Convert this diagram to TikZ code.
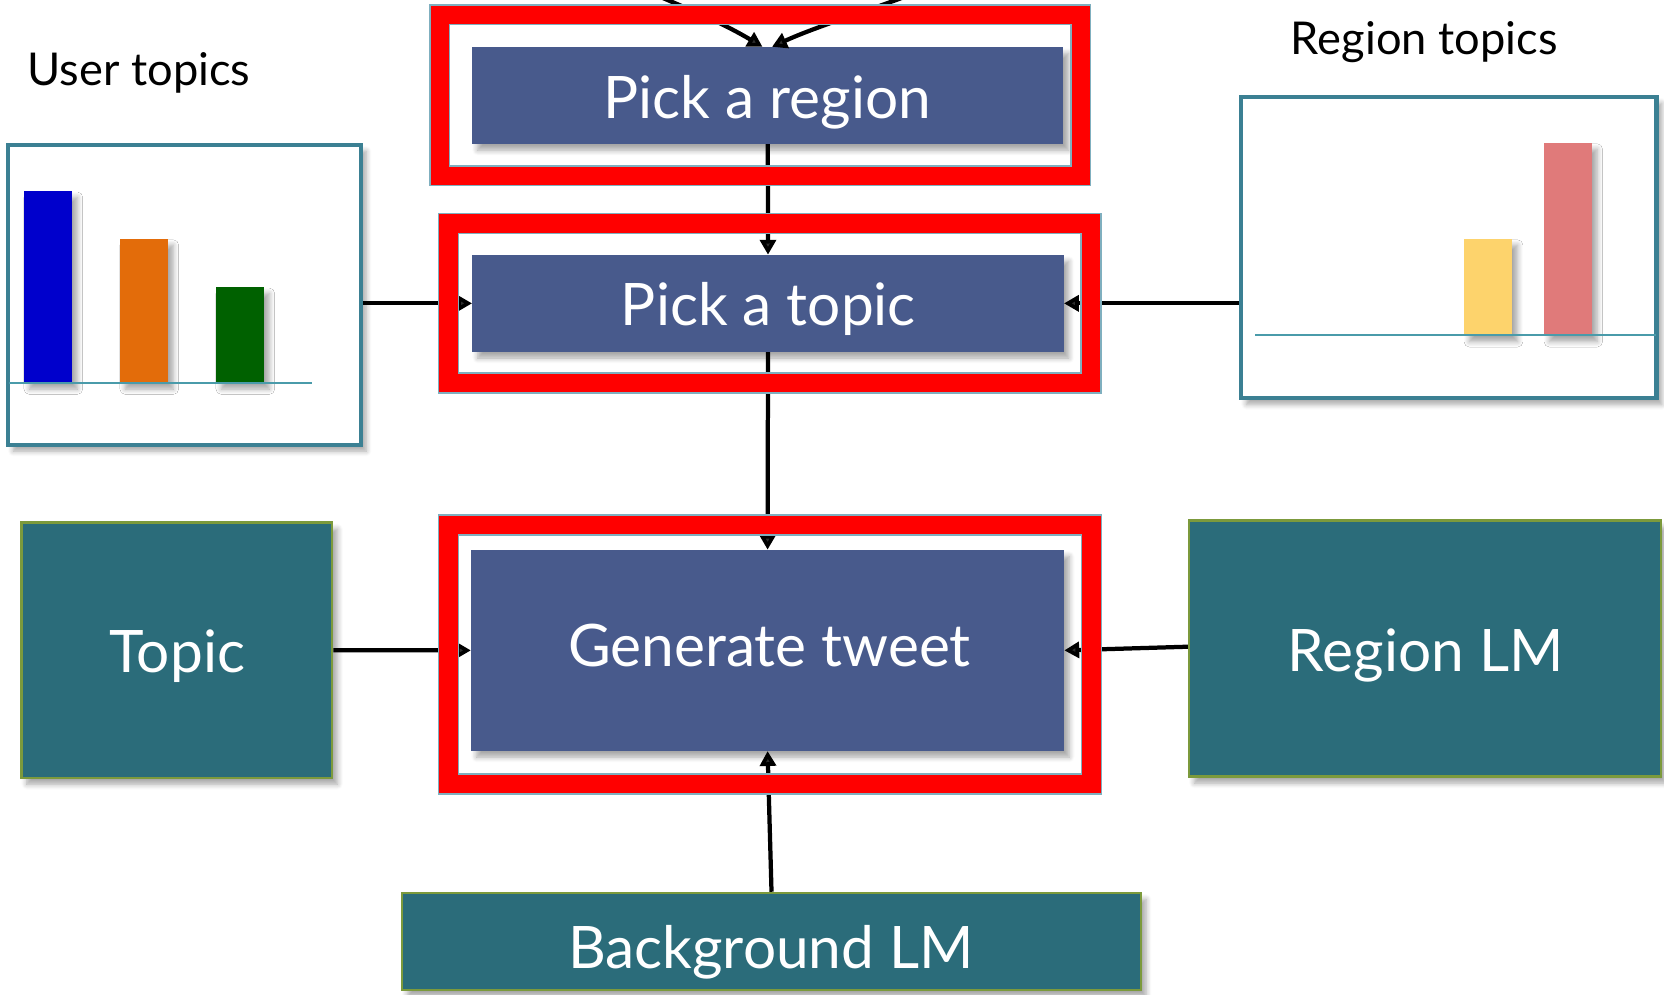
\documentclass[tikz,border=0pt]{standalone}
\usepackage{fontspec}
\setmainfont{Lato}
\usetikzlibrary{arrows.meta,shadows.blur,calc}
\definecolor{boxblue}{HTML}{485A8C}
\definecolor{lmteal}{HTML}{2B6C7A}
\definecolor{lmedge}{HTML}{7C9A3C}
\definecolor{chartedge}{HTML}{3B8093}
\definecolor{axisline}{HTML}{4A9BAA}
\definecolor{frameedge}{HTML}{7FAFBF}
\definecolor{barblue}{HTML}{0000CC}
\definecolor{barorange}{HTML}{E36C0A}
\definecolor{bargreen}{HTML}{006100}
\definecolor{baryellow}{HTML}{FDD36C}
\definecolor{barpink}{HTML}{E07A7A}
\begin{document}
\begin{tikzpicture}[x=0.5pt,y=-0.5pt,
  softshadow/.style={blur shadow={shadow xshift=2.5pt, shadow yshift=-3pt,
      shadow opacity=35, shadow blur radius=2.5pt, shadow blur steps=6}},
  stepbox/.style={fill=boxblue, draw=none, inner sep=0pt, softshadow},
  lmbox/.style={fill=lmteal, draw=lmedge, line width=1.2pt, inner sep=0pt, softshadow},
  chartbox/.style={draw=chartedge, line width=2pt, fill=white, inner sep=0pt, softshadow},
  redframe/.style={draw=frameedge, double=red, double distance=8.6pt,
      line width=0.7pt, inner sep=0pt},
  flow/.style={line width=2pt, -{Triangle[length=7pt,width=7.5pt]}},
  boxlabel/.style={text=white, anchor=base, inner sep=0pt,
      font=\fontsize{27.6pt}{31pt}\selectfont},
  charttitle/.style={text=black, anchor=base, inner sep=0pt,
      font=\fontsize{21.3pt}{25pt}\selectfont}]

\useasboundingbox (0,0) rectangle (1568,937);
\clip (0,0) rectangle (1568,937);

% process steps
\node[stepbox, minimum width=278.5pt, minimum height=45.5pt] (pr) at (723.5,90) {};
\node[stepbox, minimum width=278.5pt, minimum height=45.5pt] (pt) at (723.7,285.85) {};
\node[stepbox, minimum width=279.2pt, minimum height=94.5pt] (gen) at (723.3,612.85) {};

% topic distributions
\node[chartbox, minimum width=166.25pt, minimum height=141.25pt] (ut) at (173.75,277.75) {};
\node[chartbox, minimum width=195.75pt, minimum height=141.75pt] (rt) at (1365.25,233.25) {};

% language models
\node[lmbox, minimum width=146.4pt, minimum height=120.25pt] (topic) at (166.6,612.75) {};
\node[lmbox, minimum width=222.25pt, minimum height=120.6pt] (rlm) at (1342.75,611.3) {};
\node[lmbox, minimum width=348pt, minimum height=45.75pt] (bg) at (727,887.25) {};

% texts
\node[boxlabel] (pr-text) at (723,112) {Pick a region};
\node[boxlabel] (pt-text) at (724,307) {Pick a topic};
\node[boxlabel] (gen-text) at (725,628) {Generate tweet};
\node[boxlabel] (topic-text) at (167,634) {Topic};
\node[boxlabel] (rlm-text) at (1343.5,633) {Region LM};
\node[boxlabel] (bg-text) at (726.5,912.5) {Background LM};
\node[charttitle] (ut-text) at (131,80.8) {User topics};
\node[charttitle] (rt-text) at (1342,51.8) {Region topics};

% bars of the user topic chart
\fill[barblue, softshadow] (22.6,180) rectangle (67.9,360.6);
\fill[barorange, softshadow] (113,225) rectangle (158.3,360.6);
\fill[bargreen, softshadow] (203.5,270.5) rectangle (248.8,360.6);
\draw[axisline, line width=1pt] (8.8,361) -- (293.7,361);

% bars of the region topic chart
\fill[baryellow, softshadow] (1379.6,225) rectangle (1425,316);
\fill[barpink, softshadow] (1455,134.5) rectangle (1500,316);
\draw[axisline, line width=1pt] (1183,316) -- (1560,316);

% connectors
\coordinate (srcL) at (585,-20);
\coordinate (srcR) at (905,-25);
\draw[flow] (srcL) .. controls (625,0) and (668,14) .. ([xshift=-2.5pt]pr.north);
\draw[flow] (srcR) .. controls (860,-2) and (780,20) .. ([xshift=2pt]pr.north);
\draw[flow] (pr.south) -- (pt.north);
\draw[flow] (pt.south) -- (gen.north);
\draw[flow] (ut.east |- pt.west) -- (pt.west);
\draw[flow] (rt.west |- pt.east) -- (pt.east);
\draw[flow] (topic.east) -- (gen.west);
\draw[flow] ([yshift=0.95pt]rlm.west) -- (gen.east);
\draw[flow] (bg.north) -- (gen.south);

% highlight frames
\node[redframe, minimum width=302pt, minimum height=75.75pt] (fr-region) at (716.5,89.75) {};
\node[redframe, minimum width=302.75pt, minimum height=75.25pt] (fr-topic) at (725.25,285.75) {};
\node[redframe, minimum width=303pt, minimum height=122.05pt] (fr-tweet) at (725.5,616.75) {};
\end{tikzpicture}
\end{document}
